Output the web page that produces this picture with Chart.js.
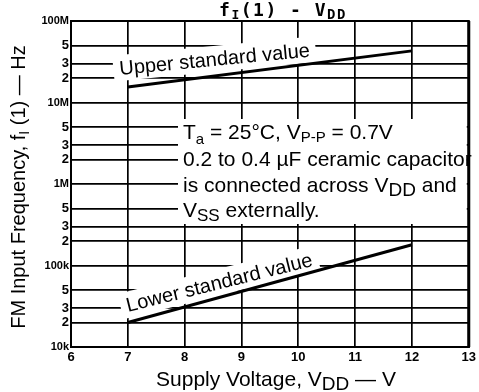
<!DOCTYPE html>
<html>
<head>
<meta charset="utf-8">
<script src="https://cdn.jsdelivr.net/npm/chart.js@4.4.1/dist/chart.umd.min.js"></script>
<style>
  html, body { margin: 0; padding: 0; background: #fff; }
  #chart { display: block; }
</style>
</head>
<body>
<canvas id="chart" width="479" height="392"></canvas>
<script>
// fI(1) - VDD : standard limits of the FM input frequency

const voltage = [7, 12];              // V
const upperFreq = [15.5e6, 43e6];     // Hz
const lowerFreq = [20e3, 180e3];      // Hz

const xTicks = [6, 7, 8, 9, 10, 11, 12, 13];
const yTicks = [1e4, 2e4, 3e4, 5e4, 1e5, 2e5, 3e5, 5e5, 1e6, 2e6, 3e6, 5e6, 1e7, 2e7, 3e7, 5e7, 1e8];
const yTickLabels = ['10k', '2', '3', '5', '100k', '2', '3', '5', '1M', '2', '3', '5', '10M', '2', '3', '5', '100M'];

const SANS = '"Liberation Sans", Arial, sans-serif';
const MONO = '"DejaVu Sans Mono", monospace';

function toPoints(xs, ys) {
  return xs.map((x, i) => ({ x: x, y: ys[i] }));
}

// text made of pieces with their own size / baseline shift (subscripts)
function setRunFont(ctx, r) {
  ctx.font = (r.weight || 'normal') + ' ' + r.size + 'px ' + (r.family || SANS);
}

function measureRuns(ctx, runs) {
  let total = 0;
  runs.forEach(r => {
    setRunFont(ctx, r);
    r.w = ctx.measureText(r.t).width;
    total += r.w;
  });
  return total;
}

function drawRuns(ctx, runs, x, y, align) {
  const total = measureRuns(ctx, runs);
  let cx = align === 'center' ? x - total / 2 : x;
  ctx.textAlign = 'left';
  ctx.textBaseline = 'alphabetic';
  runs.forEach(r => {
    setRunFont(ctx, r);
    ctx.fillText(r.t, cx, y + (r.dy || 0));
    cx += r.w;
  });
  return total;
}

// sloped captions next to the two limit lines
const slopedNotes = [
  { runs: [{ t: 'Upper standard value', size: 20 }], x: 120, y: 75, angle: -5.5 },
  { runs: [{ t: 'Lower standard value', size: 20 }], x: 128, y: 312, angle: -14 }
];

// condition block
const blockLeft = 183;
const blockLines = [
  { y: 139, runs: [
    { t: 'T', size: 21 }, { t: 'a', size: 15, dy: 5 },
    { t: ' = 25\u00B0C, V', size: 21 }, { t: 'P-P', size: 15, dy: 3 },
    { t: ' = 0.7V', size: 21 }] },
  { y: 166, runs: [{ t: '0.2 to 0.4 \u00B5F ceramic capacitor', size: 21 }] },
  { y: 192, runs: [
    { t: 'is connected across V', size: 21 }, { t: 'DD', size: 19, dy: 4 },
    { t: ' and', size: 21 }] },
  { y: 217, runs: [
    { t: 'V', size: 21 }, { t: 'SS', size: 17, dy: 4 },
    { t: ' externally.', size: 21 }] }
];

const datasheetText = {
  id: 'datasheetText',
  beforeDatasetsDraw(chart) {
    const ctx = chart.ctx;
    const area = chart.chartArea;
    ctx.save();
    ctx.fillStyle = '#fff';
    // grid is left open behind the notes
    ctx.fillRect(blockLeft - 5, 119, area.right - 2 - (blockLeft - 5), 105);
    slopedNotes.forEach(n => {
      const w = measureRuns(ctx, n.runs);
      ctx.save();
      ctx.translate(n.x, n.y);
      ctx.rotate(n.angle * Math.PI / 180);
      ctx.fillRect(-6, -20, w + 12, 26);
      ctx.restore();
    });
    ctx.restore();
  },
  afterDatasetsDraw(chart) {
    const ctx = chart.ctx;
    ctx.save();
    ctx.fillStyle = '#000';
    slopedNotes.forEach(n => {
      ctx.save();
      ctx.translate(n.x, n.y);
      ctx.rotate(n.angle * Math.PI / 180);
      drawRuns(ctx, n.runs, 0, 0, 'left');
      ctx.restore();
    });
    blockLines.forEach(l => drawRuns(ctx, l.runs, blockLeft, l.y, 'left'));
    ctx.restore();
  },
  afterDraw(chart) {
    const ctx = chart.ctx;
    const a = chart.chartArea;
    ctx.save();
    ctx.strokeStyle = '#000';
    ctx.lineWidth = 2;
    ctx.strokeRect(a.left, a.top, a.right - a.left, a.bottom - a.top);
    ctx.lineWidth = 3;
    ctx.beginPath();
    ctx.moveTo(a.right, a.top);
    ctx.lineTo(a.right, a.bottom);
    ctx.stroke();

    ctx.fillStyle = '#000';
    // title
    ctx.letterSpacing = '1.5px';
    drawRuns(ctx, [
      { t: 'f', size: 18, family: MONO, weight: 'bold' },
      { t: 'I', size: 13, dy: 3, family: MONO, weight: 'bold' },
      { t: '(1) - V', size: 18, family: MONO, weight: 'bold' },
      { t: 'DD', size: 14, dy: 3, family: MONO, weight: 'bold' }
    ], 283, 16, 'center');
    ctx.letterSpacing = '0px';

    // x axis title
    drawRuns(ctx, [
      { t: 'Supply Voltage, V', size: 21 }, { t: 'DD', size: 19, dy: 4 },
      { t: ' \u2014 V', size: 21 }
    ], 276, 386, 'center');

    // y axis title
    ctx.translate(25, 187);
    ctx.rotate(-Math.PI / 2);
    drawRuns(ctx, [
      { t: 'FM Input Frequency, f', size: 20 }, { t: 'I', size: 14, dy: 4 },
      { t: ' (1) \u2014 Hz', size: 20 }
    ], 0, 0, 'center');
    ctx.restore();
  }
};

const gridStyle = { color: '#000', lineWidth: 1.7, drawTicks: false };

new Chart(document.getElementById('chart'), {
  type: 'line',
  data: {
    datasets: [
      { label: 'Upper standard value', data: toPoints(voltage, upperFreq) },
      { label: 'Lower standard value', data: toPoints(voltage, lowerFreq) }
    ]
  },
  options: {
    responsive: false,
    animation: false,
    devicePixelRatio: 1,
    layout: { autoPadding: false, padding: { top: 21, right: 2, left: 0, bottom: 0 } },
    elements: {
      line: { borderColor: '#000', borderWidth: 3, tension: 0 },
      point: { radius: 0 }
    },
    plugins: { legend: { display: false }, tooltip: { enabled: false } },
    scales: {
      x: {
        type: 'linear',
        min: 6,
        max: 13,
        afterBuildTicks: s => { s.ticks = xTicks.map(v => ({ value: v })); },
        afterFit: s => { s.height = 45; },
        grid: gridStyle,
        border: { color: '#000', width: 2 },
        ticks: {
          color: '#000',
          padding: 3,
          autoSkip: false,
          maxRotation: 0,
          font: { family: SANS, size: 13, weight: 'bold' }
        }
      },
      y: {
        type: 'logarithmic',
        min: 1e4,
        max: 1e8,
        afterBuildTicks: s => { s.ticks = yTicks.map(v => ({ value: v })); },
        afterFit: s => { s.width = 71; },
        grid: gridStyle,
        border: { color: '#000', width: 2 },
        ticks: {
          color: '#000',
          padding: 2,
          autoSkip: false,
          callback: v => yTickLabels[yTicks.indexOf(v)],
          font: ctx => {
            const lbl = yTickLabels[yTicks.indexOf(ctx.tick && ctx.tick.value)] || '';
            return { family: SANS, weight: 'bold', size: lbl.length > 1 ? 11 : 13 };
          }
        }
      }
    }
  },
  plugins: [datasheetText]
});
</script>
</body>
</html>
